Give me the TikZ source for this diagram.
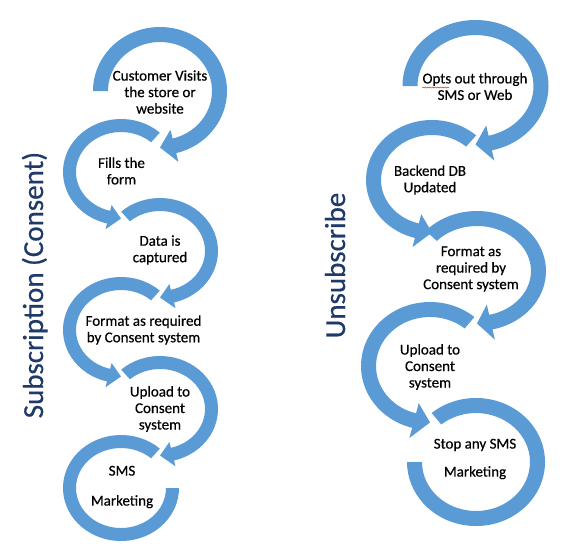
\documentclass[tikz,border=0pt]{standalone}
\usepackage{fontspec}
\setmainfont{Carlito}[FakeBold=0.5]
\usetikzlibrary{calc,decorations.pathmorphing}
\definecolor{ringblue}{HTML}{5B9BD5}
\definecolor{navy}{HTML}{1F3A68}
\definecolor{squig}{HTML}{E03030}

% clockwise ring with arrowhead: #1 centre, #2 A, #3 B, #4 thickness, #5 start, #6 end, #7 head half-width
\newcommand{\RgArrow}[7]{%
  \pgfmathsetmacro\rgOA{#2}\pgfmathsetmacro\rgOB{#3}%
  \pgfmathsetmacro\rgIA{#2-#4}\pgfmathsetmacro\rgIB{#3-#4}%
  \pgfmathsetmacro\rgMA{#2-#4/2}\pgfmathsetmacro\rgMB{#3-#4/2}%
  \pgfmathsetmacro\rgHoA{\rgMA+#7}\pgfmathsetmacro\rgHoB{\rgMB+#7}%
  \pgfmathsetmacro\rgHiA{\rgMA-#7}\pgfmathsetmacro\rgHiB{\rgMB-#7}%
  \fill[ringfill] ($(#1)+(#5:\rgOA pt and \rgOB pt)$)
     arc[start angle=#5,end angle=#6,x radius=\rgOA pt,y radius=\rgOB pt]
     -- ($(#1)+(#6:\rgHoA pt and \rgHoB pt)$)
     -- ($(#1)+(270:\rgMA pt and \rgMB pt)$)
     -- ($(#1)+(#6:\rgHiA pt and \rgHiB pt)$)
     -- ($(#1)+(#6:\rgIA pt and \rgIB pt)$)
     arc[start angle=#6,end angle=#5,x radius=\rgIA pt,y radius=\rgIB pt] -- cycle;
}
% ring without arrowhead: #1 centre, #2 A, #3 B, #4 thickness, #5 start, #6 end
\newcommand{\RgPlain}[6]{%
  \pgfmathsetmacro\rgOA{#2}\pgfmathsetmacro\rgOB{#3}%
  \pgfmathsetmacro\rgIA{#2-#4}\pgfmathsetmacro\rgIB{#3-#4}%
  \fill[ringfill] ($(#1)+(#5:\rgOA pt and \rgOB pt)$)
     arc[start angle=#5,end angle=#6,x radius=\rgOA pt,y radius=\rgOB pt]
     -- ($(#1)+(#6:\rgIA pt and \rgIB pt)$)
     arc[start angle=#6,end angle=#5,x radius=\rgIA pt,y radius=\rgIB pt] -- cycle;
}

\begin{document}
\begin{tikzpicture}[x=1pt,y=1pt,
  ringfill/.style={fill=ringblue},
  lbl/.style={align=center, inner sep=0pt, text=black,
              font=\fontsize{15}{16.5}\selectfont},
  ttl/.style={rotate=90, anchor=base, inner sep=0pt, text=navy,
              font=\fontsize{29}{34}\selectfont}]
\useasboundingbox (0,0) rectangle (575,-550);
\fill[white] (0,0) rectangle (575,-550);

% centres, left column
\coordinate (c1) at (160,-91);
\coordinate (c2) at (121,-172);
\coordinate (c3) at (160,-251);
\coordinate (c4) at (121,-330);
\coordinate (c5) at (160,-409);
\coordinate (c6) at (121,-488);
% centres, right column
\coordinate (r1) at (475.5,-86);
\coordinate (r2) at (432,-180);
\coordinate (r3) at (477,-271);
\coordinate (r4) at (430,-366);
\coordinate (r5) at (476,-462);

% left rings
\RgArrow{c1}{67}{64}{15}{180}{-76}{16.5}
\RgArrow{c2}{58}{53}{13}{48}{256}{12.5}
\RgArrow{c3}{58}{53}{13}{132}{-76}{12.5}
\RgArrow{c4}{58}{53}{13}{48}{256}{12.5}
\RgArrow{c5}{58}{53}{13}{132}{-76}{12.5}
\RgPlain{c6}{58}{53}{13}{48}{360}

% right rings
\RgArrow{r1}{73}{66}{15}{180}{-77}{18}
\RgArrow{r2}{66}{60}{15}{48}{255}{17}
\RgArrow{r3}{69}{60}{15}{138}{-77}{18}
\RgArrow{r4}{69}{64}{15}{50}{255}{18}
\RgPlain{r5}{69}{64}{15}{130}{-180}

% titles
\node[ttl] (tsub) at (43,-285) {Subscription (Consent)};
\node[ttl] (tuns) at (345,-265.5) {Unsubscribe};

% left texts
\node[lbl] (l1) at (160,-92) {Customer Visits\\the store or\\website};
\node[lbl] (l2) at (121.5,-171) {Fills the\\form};
\node[lbl] (l3) at (160,-250) {Data is\\captured};
\node[lbl] (l4) at (143.5,-330) {Format as required\\by Consent system};
\node[lbl] (l5) at (160,-409) {Upload to\\Consent\\system};
\node[lbl] (l6) at (122,-487) {SMS\\[13.5pt]Marketing};

% right texts
\node[lbl] (m1) at (475,-86.5) {Opts out through\\SMS or Web};
\node[lbl] (m2) at (430,-180) {Backend DB\\Updated};
\node[lbl] (m3) at (471,-269) {Format as\\required by\\Consent system};
\node[lbl] (m4) at (430,-367) {Upload to\\Consent\\system};
\node[lbl] (m5) at (475,-459) {Stop any SMS\\[11.5pt]Marketing};

% spell-check squiggle under "Opts"
\coordinate (sqa) at (422,-87.5);
\coordinate (sqb) at (449,-87.5);
\draw[squig, line width=0.5pt, decorate,
      decoration={snake, amplitude=0.6pt, segment length=2.5pt}] (sqa) -- (sqb);
\end{tikzpicture}
\end{document}
